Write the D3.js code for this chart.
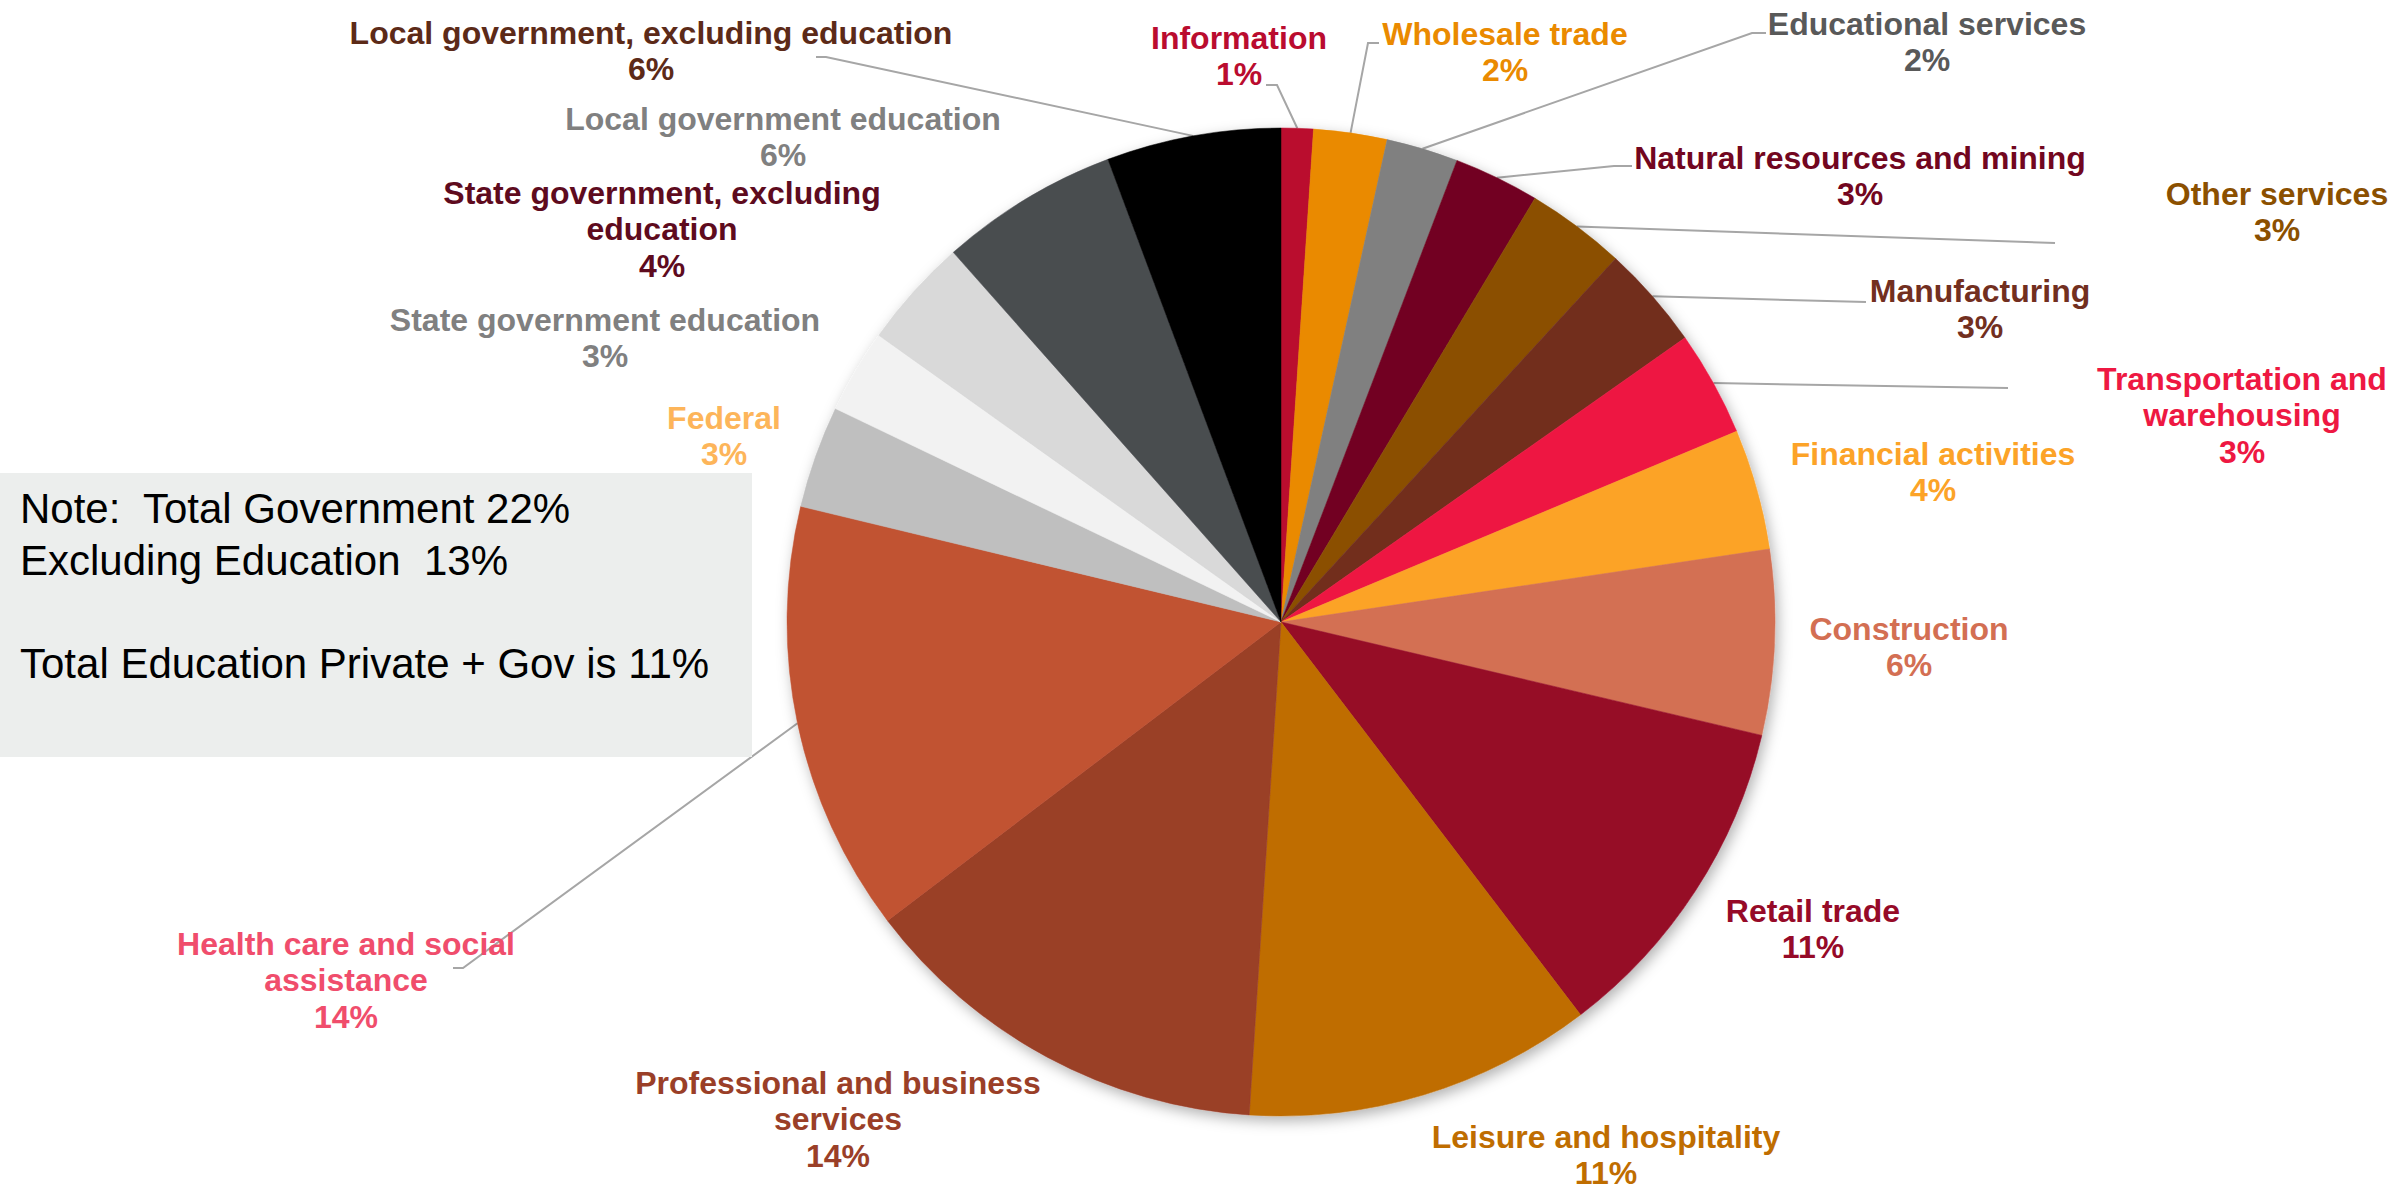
<!DOCTYPE html>
<html>
<head>
<meta charset="utf-8">
<script src="https://cdn.jsdelivr.net/npm/d3@7"></script>
<style>
  html, body { margin: 0; padding: 0; background: #ffffff; }
  svg { display: block; }
  text { font-family: "Liberation Sans", Arial, sans-serif; }
</style>
</head>
<body>
<svg id="chart" width="2407" height="1190"></svg>
<script>
// ---- data ----
const categories = [
  "Information", "Wholesale trade", "Educational services", "Natural resources and mining",
  "Other services", "Manufacturing", "Transportation and warehousing", "Financial activities",
  "Construction", "Retail trade", "Leisure and hospitality", "Professional and business services",
  "Health care and social assistance", "Federal", "State government education",
  "State government, excluding education", "Local government education",
  "Local government, excluding education"
];
const values = [1.05, 2.4, 2.35, 2.8, 3.25, 3.4, 3.45, 3.95, 6.05, 10.95, 11.4, 13.65, 14.1, 3.35, 2.75, 3.6, 5.85, 5.7];
const pctLabels = ["1%", "2%", "2%", "3%", "3%", "3%", "3%", "4%", "6%", "11%", "11%", "14%", "14%", "3%", "3%", "4%", "6%", "6%"];
const labelLines = [
  ["Information"], ["Wholesale trade"], ["Educational services"], ["Natural resources and mining"],
  ["Other services"], ["Manufacturing"], ["Transportation and", "warehousing"], ["Financial activities"],
  ["Construction"], ["Retail trade"], ["Leisure and hospitality"], ["Professional and business", "services"],
  ["Health care and social", "assistance"], ["Federal"], ["State government education"],
  ["State government, excluding", "education"], ["Local government education"],
  ["Local government, excluding education"]
];
const noteLines = ["Note:  Total Government 22%", "Excluding Education  13%", "", "Total Education Private + Gov is 11%"];

// ---- styles ----
const sliceColors = ["#BA0C2F", "#EA8A00", "#808080", "#720620", "#8B5000", "#722F1F", "#EE1842", "#FCA328",
  "#D36F53", "#960A28", "#BF6D00", "#9A3F28", "#C15232", "#BFBFBF", "#F2F2F2", "#D9D9D9", "#4A4D50", "#000000"];
const labelColors = ["#BA0C2F", "#EA8A00", "#595959", "#720620", "#8B5000", "#722F1F", "#EE1842", "#FCA328",
  "#D36F53", "#960A28", "#BF6D00", "#9A3F28", "#F04D6C", "#FDB55A", "#808080", "#5E0B1E", "#808080", "#5C2A18"];

// label layout: [centre x, centre y of first line]
const labelPos = [
  [1239, 37], [1505, 33], [1927, 23], [1860, 157], [2277, 193], [1980, 290], [2242, 378], [1933, 453],
  [1909, 628], [1813, 910], [1606, 1136], [838, 1082], [346, 943], [724, 417], [605, 319],
  [662, 192], [783, 118], [651, 32]
];
// leader lines: index -> [elbow x, elbow y, end x]
const leaders = {
  0: [1277, 85, 1266], 1: [1368, 43, 1379], 2: [1752, 33, 1766], 3: [1614, 166, 1632],
  4: [2055, 243, 2055], 5: [1866, 302, 1866], 6: [2008, 388, 2008], 12: [463, 968, 453],
  17: [826, 57, 816]
};

const cx = 1281, cy = 622, R = 494;
const fontSize = 32, lineH = 36.5;

const svg = d3.select("#chart");
const defs = svg.append("defs");
const f = defs.append("filter").attr("id", "shadow").attr("x", "-10%").attr("y", "-10%").attr("width", "120%").attr("height", "120%");
f.append("feDropShadow").attr("dx", 3).attr("dy", 5).attr("stdDeviation", 7).attr("flood-color", "#000").attr("flood-opacity", 0.3);

const data = categories.map((c, i) => ({ name: c, value: values[i], i }));
const pie = d3.pie().sort(null).value(d => d.value).startAngle(0).endAngle(2 * Math.PI);
const arcs = pie(data);
const arc = d3.arc().innerRadius(0).outerRadius(R);

// leader lines (under the box)
const lineG = svg.append("g");
arcs.forEach((a, k) => {
  const L = leaders[k];
  if (!L) return;
  const mid = (a.startAngle + a.endAngle) / 2;
  const ex = cx + R * Math.sin(mid), ey = cy - R * Math.cos(mid);
  lineG.append("path")
    .attr("d", d3.line()([[ex, ey], [L[0], L[1]], [L[2], L[1]]]))
    .attr("fill", "none").attr("stroke", "#A6A6A6").attr("stroke-width", 2);
});

// note box
svg.append("rect").attr("x", 0).attr("y", 473).attr("width", 752).attr("height", 284).attr("fill", "#ECEEED");
const noteT = svg.append("text").attr("x", 20).attr("y", 523).attr("font-size", 42).attr("fill", "#000")
  .style("white-space", "pre");
noteLines.forEach((t, k) => {
  noteT.append("tspan").attr("x", 20).attr("y", 523 + k * 51.5).text(t);
});

// pie
const pieG = svg.append("g").attr("transform", `translate(${cx},${cy})`).attr("filter", "url(#shadow)");
pieG.selectAll("path").data(arcs).join("path")
  .attr("d", arc)
  .attr("fill", d => sliceColors[d.data.i])
  .attr("stroke", d => sliceColors[d.data.i])
  .attr("stroke-width", 0.5);

// labels
const labG = svg.append("g");
arcs.forEach((a, k) => {
  const [x, y] = labelPos[k];
  const lines = labelLines[k].concat([pctLabels[k]]);
  const t = labG.append("text")
    .attr("text-anchor", "middle")
    .attr("font-size", fontSize)
    .attr("font-weight", "bold")
    .attr("fill", labelColors[k]);
  lines.forEach((s, j) => {
    t.append("tspan").attr("x", x).attr("y", y + 11.5 + j * lineH).text(s);
  });
});
</script>
</body>
</html>
